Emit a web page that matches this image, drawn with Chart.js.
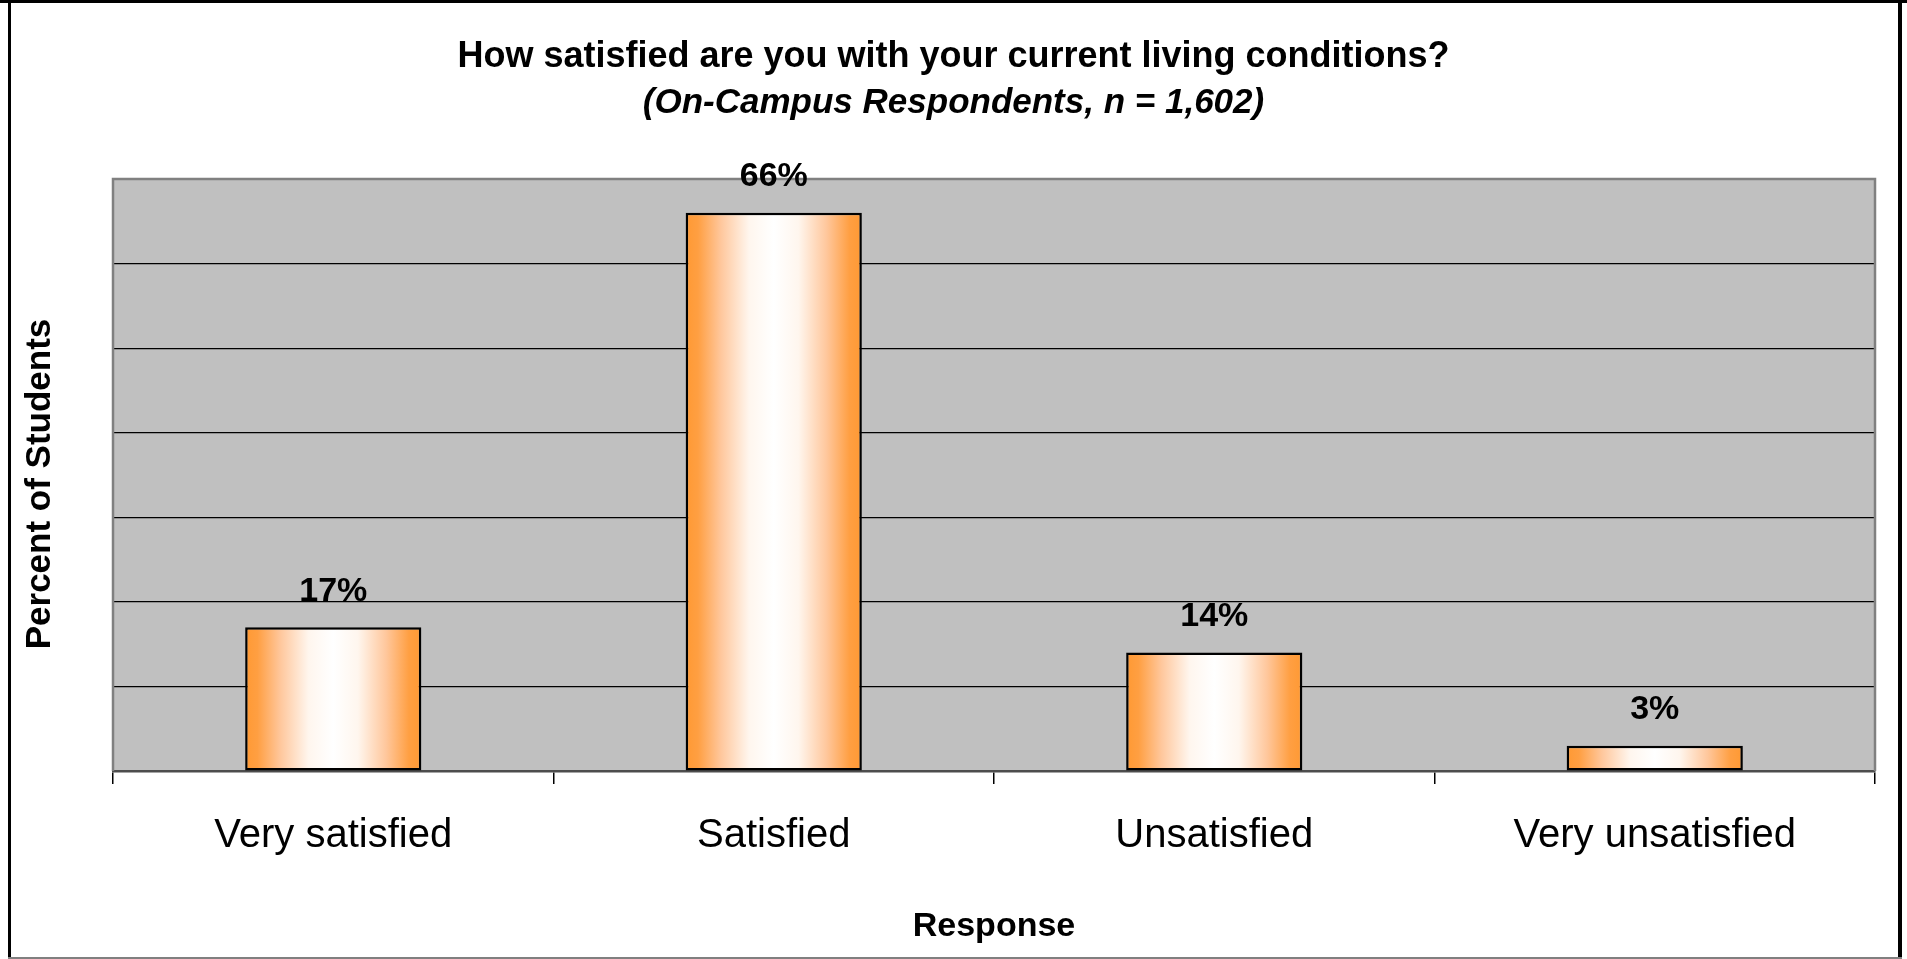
<!DOCTYPE html>
<html>
<head>
<meta charset="utf-8">
<title>Living conditions satisfaction</title>
<script src="https://cdn.jsdelivr.net/npm/chart.js@4/dist/chart.umd.min.js"></script>
<style>
  html, body { margin: 0; padding: 0; background: #fff; }
  canvas { display: block; }
</style>
</head>
<body>
<canvas id="satisfactionChart" width="1907" height="959"></canvas>
<script>
const categories = ['Very satisfied', 'Satisfied', 'Unsatisfied', 'Very unsatisfied'];
const percentValues = [17, 66, 14, 3];
const yMax = 70;
const yStep = 10;

const FONT = '"Liberation Sans", Arial, Helvetica, sans-serif';
Chart.defaults.font.family = FONT;
Chart.defaults.color = '#000';

const orange = '#FF9933';

// horizontal orange -> white -> orange fill across each bar
function barFill(context) {
    const chart = context.chart;
    if (context.type !== 'data' || !chart.chartArea) return orange;
    const xScale = chart.scales.x;
    const cx = xScale.getPixelForValue(context.dataIndex);
    const half = xScale.width / categories.length * 0.4 / 2;
    const g = chart.ctx.createLinearGradient(cx - half, 0, cx + half, 0);
    g.addColorStop(0, '#FF9933');
    g.addColorStop(0.07, '#FF9F42');
    g.addColorStop(0.2, '#FFC79C');
    g.addColorStop(0.36, '#FFF6EE');
    g.addColorStop(0.5, '#FFFFFF');
    g.addColorStop(0.64, '#FFF6EE');
    g.addColorStop(0.8, '#FFC79C');
    g.addColorStop(0.93, '#FF9F42');
    g.addColorStop(1, '#FF9933');
    return g;
}

// grey plot background and its frame
const plotBox = {
    id: 'plotBox',
    beforeDraw(chart) {
        const {ctx, chartArea: a} = chart;
        ctx.save();
        ctx.fillStyle = '#C0C0C0';
        ctx.fillRect(a.left, a.top, a.right - a.left, a.bottom - a.top);
        ctx.restore();
    },
    beforeDatasetsDraw(chart) {
        const {ctx, chartArea: a} = chart;
        ctx.save();
        ctx.strokeStyle = '#808080';
        ctx.lineWidth = 2.5;
        ctx.beginPath();
        ctx.moveTo(a.left, a.bottom);
        ctx.lineTo(a.left, a.top);
        ctx.lineTo(a.right, a.top);
        ctx.lineTo(a.right, a.bottom);
        ctx.stroke();
        ctx.restore();
    }
};

// percent labels above the bars, vertical axis caption
const barLabels = {
    id: 'barLabels',
    afterDatasetsDraw(chart) {
        const {ctx, chartArea: a} = chart;
        const meta = chart.getDatasetMeta(0);
        ctx.save();
        ctx.font = 'bold 34px ' + FONT;
        ctx.fillStyle = '#000';
        ctx.textAlign = 'center';
        ctx.textBaseline = 'middle';
        meta.data.forEach((bar, i) => {
            ctx.fillText(percentValues[i] + '%', bar.x, bar.y - 36);
        });
        ctx.translate(40, (a.top + a.bottom) / 2 + 9);
        ctx.rotate(-Math.PI / 2);
        ctx.font = 'bold 35px ' + FONT;
        ctx.fillText('Percent of Students', 0, 0);
        ctx.restore();
    }
};

// outer chart frame
const outerFrame = {
    id: 'outerFrame',
    afterDraw(chart) {
        const {ctx, width, height} = chart;
        ctx.save();
        ctx.fillStyle = '#000';
        ctx.fillRect(0, 0, width, 3);
        ctx.fillRect(8, 0, 3, height);
        ctx.fillRect(1898, 0, 4, height);
        ctx.fillStyle = '#808080';
        ctx.fillRect(8, height - 2, 1894, 2);
        ctx.restore();
    }
};

new Chart(document.getElementById('satisfactionChart'), {
    type: 'bar',
    data: {
        labels: categories,
        datasets: [{
            label: 'Percent of Students',
            data: percentValues,
            backgroundColor: barFill,
            borderColor: '#000',
            borderWidth: 2.5,
            borderSkipped: false,
            categoryPercentage: 0.8,
            barPercentage: 0.5
        }]
    },
    options: {
        responsive: false,
        animation: false,
        devicePixelRatio: 1,
        layout: { padding: 0 },
        plugins: {
            legend: { display: false },
            tooltip: { enabled: false },
            title: {
                display: true,
                text: 'How satisfied are you with your current living conditions?',
                font: { size: 36, weight: 'bold' },
                color: '#000',
                padding: { top: 35, bottom: 0 }
            },
            subtitle: {
                display: true,
                text: '(On-Campus Respondents, n = 1,602)',
                font: { size: 35, weight: 'bold', style: 'italic' },
                color: '#000',
                padding: { top: 3.8, bottom: 55 }
            }
        },
        scales: {
            x: {
                grid: {
                    display: true,
                    drawOnChartArea: false,
                    drawTicks: true,
                    tickLength: 13,
                    color: '#000',
                    lineWidth: 1.5
                },
                border: { display: true, color: '#4D4D4D', width: 2.5 },
                ticks: {
                    font: { size: 40 },
                    color: '#000',
                    padding: 28,
                    maxRotation: 0
                },
                title: {
                    display: true,
                    text: 'Response',
                    font: { size: 34, weight: 'bold' },
                    color: '#000',
                    padding: { top: 0, bottom: 12 }
                },
                afterFit(axis) { axis.height = 188; }
            },
            y: {
                min: 0,
                max: yMax,
                ticks: { display: false, stepSize: yStep },
                grid: {
                    drawTicks: false,
                    color: ctx => (ctx.tick.value > 0 && ctx.tick.value < yMax) ? '#000' : 'rgba(0,0,0,0)',
                    lineWidth: 1.2
                },
                border: { display: false },
                afterFit(axis) { axis.width = 113; }
            },
            // empty right margin so the titles center on the whole canvas
            yRight: {
                type: 'linear',
                position: 'right',
                ticks: { display: false },
                grid: { display: false, drawTicks: false },
                border: { display: false },
                afterFit(axis) { axis.width = 32; }
            }
        }
    },
    plugins: [plotBox, barLabels, outerFrame]
});
</script>
</body>
</html>
